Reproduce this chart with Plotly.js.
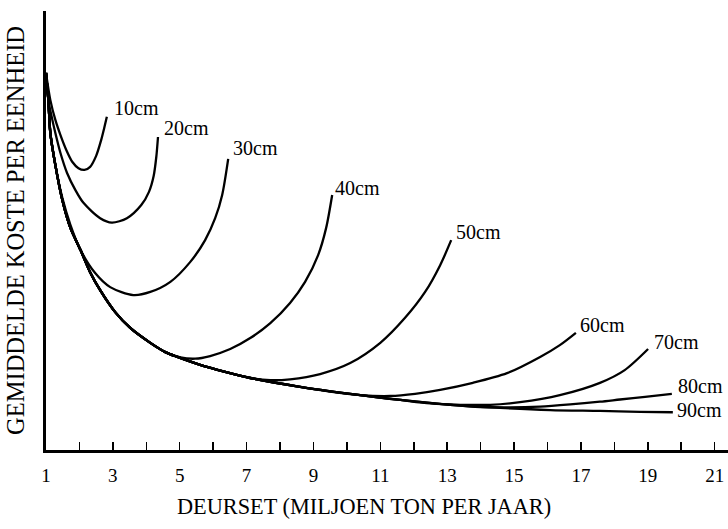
<!DOCTYPE html>
<html>
<head>
<meta charset="utf-8">
<script src="https://cdn.plot.ly/plotly-3.0.1.min.js"></script>
<style>html,body{margin:0;padding:0;background:#fff;}#chart{width:728px;height:529px;}</style>
</head>
<body>
<div id="chart"></div>
<script>
// Throughput (million ton per year) and average unit cost (index) per pipe diameter
const labels = ["10cm","20cm","30cm","40cm","50cm","60cm","70cm","80cm","90cm"];

const x10 = [1.0,1.13,1.28,1.43,1.61,1.79,1.97,2.15,2.32,2.50,2.65,2.74,2.82];
const y10 = [85.9,79.7,75.2,71.8,68.3,65.6,64.2,63.8,64.5,67.0,70.6,73.3,75.9];

const x20 = [1.0,1.07,1.19,1.28,1.43,1.63,1.88,2.12,2.62,2.97,3.42,3.85,4.08,4.22,4.30,4.35];
const y20 = [85.9,79.7,75.2,72.2,67.7,63.1,59.2,56.3,52.8,51.8,52.8,55.8,58.8,62.4,66.8,71.3];

const x30 = [1.0,1.07,1.13,1.28,1.49,1.73,2.03,2.47,2.92,3.61,4.12,4.72,5.31,5.76,6.06,6.27,6.45];
const y30 = [85.9,79.7,72.2,64.9,57.4,51.3,45.6,40.3,37.1,35.3,36.0,38.3,42.8,47.8,52.8,58.1,66.3];

const x40 = [1.0,1.07,1.13,1.28,1.49,1.73,2.03,2.32,2.62,3.07,3.52,4.12,4.57,5.02,5.46,5.91,6.51,7.11,7.71,8.30,8.75,9.14,9.38,9.56];
const y40 = [85.9,79.7,72.2,64.9,56.9,50.6,45.6,40.5,36.4,31.4,27.8,24.4,22.3,21.1,20.8,21.4,23.0,25.5,28.9,33.5,38.3,44.4,50.6,58.1];

const x50 = [1.0,1.07,1.13,1.28,1.49,1.73,2.03,2.32,2.62,3.07,3.52,4.12,4.57,4.93,5.61,6.36,7.11,7.71,8.30,9.20,10.10,11.00,11.74,12.34,12.79,13.12];
const y50 = [85.9,79.7,72.2,64.9,56.9,50.6,45.6,40.5,36.4,31.4,27.8,24.4,22.3,21.2,19.4,17.8,16.4,15.9,16.1,17.3,19.8,24.4,30.1,36.0,42.1,47.8];

const x60 = [1.0,1.07,1.13,1.28,1.49,1.73,2.03,2.32,2.62,3.07,3.52,4.12,4.57,4.93,5.61,6.36,7.11,8.60,9.50,10.40,11.30,12.04,12.79,13.77,14.79,15.78,16.37,16.85];
const y60 = [85.9,79.7,72.2,64.9,56.9,50.6,45.6,40.5,36.4,31.4,27.8,24.4,22.3,21.2,19.4,17.8,16.4,14.4,13.3,12.5,12.3,12.8,13.7,15.3,17.5,21.2,23.9,26.7];

const x70 = [1.0,1.07,1.13,1.28,1.49,1.73,2.03,2.32,2.62,3.07,3.52,4.12,4.57,4.93,5.61,6.36,7.11,8.60,10.10,11.60,12.49,13.39,14.29,15.18,16.37,17.57,18.31,19.01];
const y70 = [85.9,79.7,72.2,64.9,56.9,50.6,45.6,40.5,36.4,31.4,27.8,24.4,22.3,21.2,19.4,17.8,16.4,14.4,12.8,11.4,10.6,10.3,10.3,10.9,12.5,15.3,18.2,23.0];

const x80 = [1.0,1.07,1.13,1.28,1.49,1.73,2.03,2.32,2.62,3.07,3.52,4.12,4.57,4.93,5.61,6.36,7.11,8.60,10.10,11.60,13.09,13.99,14.88,15.78,16.68,17.57,18.17,18.92,19.72];
const y80 = [85.9,79.7,72.2,64.9,56.9,50.6,45.6,40.5,36.4,31.4,27.8,24.4,22.3,21.2,19.4,17.8,16.4,14.4,12.8,11.4,10.3,9.8,9.7,9.9,10.4,11.0,11.5,12.1,12.8];

const x90 = [1.0,1.07,1.13,1.28,1.49,1.73,2.03,2.32,2.62,3.07,3.52,4.12,4.57,4.93,5.61,6.36,7.11,8.60,10.10,11.60,13.09,14.58,16.08,17.57,18.77,19.75];
const y90 = [85.9,79.7,72.2,64.9,56.9,50.6,45.6,40.5,36.4,31.4,27.8,24.4,22.3,21.2,19.4,17.8,16.4,14.4,12.8,11.4,10.3,9.6,9.1,8.9,8.7,8.6];

const tickVals = [1,2,3,4,5,6,7,8,9,10,11,12,13,14,15,16,17,18,19,20,21];
const tickText = ["1","","3","","5","","7","","9","","11","","13","","15","","17","","19","","21"];

const xTitle = "DEURSET (MILJOEN TON PER JAAR)";
const yTitle = "GEMIDDELDE KOSTE PER EENHEID";

const xs = [x10,x20,x30,x40,x50,x60,x70,x80,x90];
const ys = [y10,y20,y30,y40,y50,y60,y70,y80,y90];
// label offsets from curve end (pixels)
const labelShift = [[5,9],[4,9],[3,11],[1,7],[3,8],[2,8],[4,7],[4,8],[2,2]];

const FONT = "Liberation Serif, Times New Roman, serif";

const traces = xs.map((x, i) => ({
  x: x, y: ys[i], type: "scatter", mode: "lines",
  line: {color: "#000", width: 2.3, shape: "spline", smoothing: 0.8},
  hoverinfo: "skip", showlegend: false, name: labels[i]
}));

const annotations = labels.map((t, i) => ({
  x: xs[i][xs[i].length-1], y: ys[i][ys[i].length-1],
  xref: "x", yref: "y", text: t, showarrow: false,
  xanchor: "left", yanchor: "middle",
  xshift: labelShift[i][0], yshift: labelShift[i][1],
  font: {family: FONT, size: 20, color: "#000"}
}));

// x-axis title (sits slightly left of the axis centre in the original)
annotations.push({
  x: 0.466, y: 0, xref: "paper", yref: "paper", text: xTitle, showarrow: false,
  xanchor: "center", yanchor: "middle", yshift: -56,
  font: {family: FONT, size: 22.3, color: "#000"}
});

const layout = {
  width: 728, height: 529,
  margin: {l: 46, r: 0, t: 11, b: 79},
  paper_bgcolor: "#fff", plot_bgcolor: "#fff",
  font: {family: FONT, color: "#000"},
  showlegend: false,
  xaxis: {
    range: [1, 21.4], showgrid: false, zeroline: false,
    showline: true, linecolor: "#000", linewidth: 3,
    tickmode: "array", tickvals: tickVals, ticktext: tickText,
    ticks: "inside", ticklen: 8, tickwidth: 1.5, tickcolor: "#000",
    tickfont: {family: FONT, size: 19, color: "#000"},
    ticklabelstandoff: 6
  },
  yaxis: {
    range: [0, 100], showgrid: false, zeroline: false,
    showline: true, linecolor: "#000", linewidth: 3,
    ticks: "", showticklabels: false,
    title: {text: yTitle, font: {family: FONT, size: 24.5, color: "#000"}, standoff: 12}
  },
  annotations: annotations
};

Plotly.newPlot("chart", traces, layout, {displayModeBar: false, staticPlot: true});
</script>
</body>
</html>
